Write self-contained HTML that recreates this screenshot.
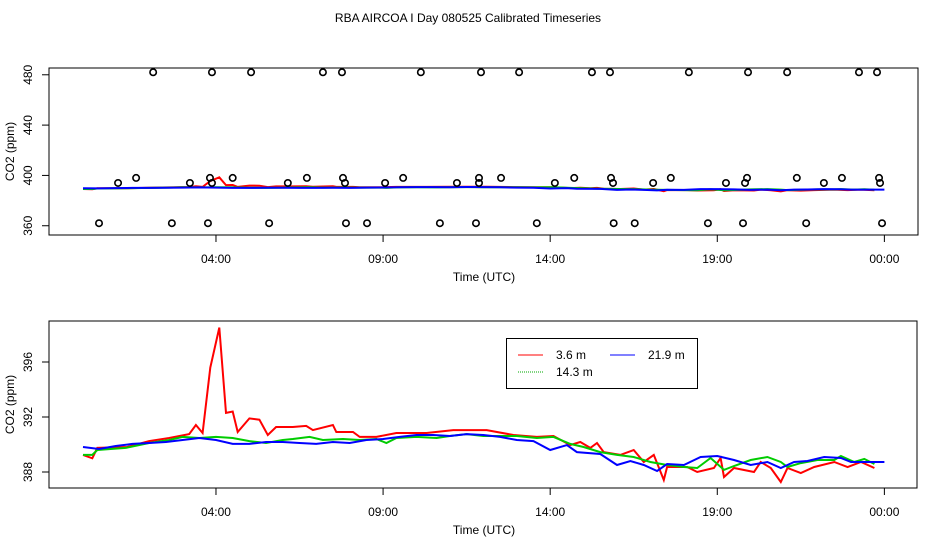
<!DOCTYPE html>
<html><head><meta charset="utf-8"><style>
body{margin:0;background:#fff}
svg text{font-family:"Liberation Sans",sans-serif;font-size:12px;fill:#000}
</style></head><body>
<svg id="c" width="936" height="540" viewBox="0 0 936 540">
<text x="468" y="22" text-anchor="middle">RBA AIRCOA I  Day 080525  Calibrated Timeseries</text>
</svg>
<script>
const xTicks=[4,9,14,19,24];
const xTickLabels=["04:00","09:00","14:00","19:00","00:00"];
const topYTicks=[360,400,440,480];
const botYTicks=[388,392,396];
const c482=[2.12,3.88,5.05,7.20,7.77,10.13,11.93,13.07,15.25,15.79,18.15,19.92,21.09,23.24,23.78];
const c398=[1.61,3.82,4.5,6.72,7.8,9.6,11.87,12.53,14.72,15.82,17.61,19.89,21.38,22.73,23.84];
const c394=[1.07,3.22,3.88,6.15,7.86,9.06,11.21,11.87,14.14,15.88,17.08,19.26,19.83,22.19,23.87];
const c360=[0.5,2.68,3.76,5.59,7.89,8.52,10.7,11.78,13.6,15.9,16.53,18.72,19.77,21.66,23.93];
const redT=[0.02,0.3,0.45,1.34,2.0,2.6,3.2,3.4,3.6,3.83,4.1,4.3,4.5,4.65,5.0,5.3,5.55,5.8,6.3,6.7,6.9,7.5,7.6,8.1,8.3,8.8,9.4,10.3,11.1,12.1,12.9,13.6,14.1,14.6,14.9,15.2,15.4,15.6,16.1,16.5,16.8,17.1,17.4,17.5,18.1,18.4,18.9,19.1,19.2,19.5,20.1,20.3,20.6,20.9,21.1,21.5,21.9,22.5,22.9,23.3,23.7];
const redV=[389.24,389.0,389.75,389.82,390.25,390.47,390.76,391.42,390.84,395.6,398.5,392.3,392.4,390.91,391.9,391.8,390.69,391.27,391.27,391.35,391.05,391.42,390.91,390.91,390.55,390.55,390.84,390.84,391.05,391.05,390.69,390.55,390.62,389.96,390.18,389.75,390.11,389.45,389.24,389.6,388.73,389.24,387.42,388.36,388.36,388.0,388.29,389.02,387.64,388.29,388.0,388.73,388.29,387.27,388.29,387.93,388.36,388.73,388.36,388.73,388.29];
const greenT=[0.02,0.3,0.45,1.3,2.0,2.6,3.0,3.5,4.0,4.5,5.0,5.5,6.0,6.3,6.8,7.2,7.8,8.3,8.8,9.1,9.4,10.0,10.6,11.0,11.5,12.0,12.5,13.0,13.6,14.1,14.6,15.0,15.5,16.0,16.5,17.0,17.5,18.0,18.4,18.8,19.2,19.5,20.0,20.5,20.9,21.1,21.5,22.0,22.5,22.7,23.1,23.4,23.7];
const greenV=[389.24,389.24,389.6,389.75,390.11,390.33,390.55,390.47,390.55,390.47,390.25,390.11,390.33,390.4,390.55,390.33,390.4,390.33,390.4,390.11,390.47,390.55,390.47,390.62,390.76,390.62,390.62,390.62,390.47,390.55,390.04,389.82,389.45,389.24,389.09,388.73,388.51,388.36,388.29,389.02,388.15,388.44,388.87,389.09,388.73,388.36,388.65,388.87,388.87,389.16,388.73,388.95,388.58];
const blueT=[0.02,0.5,1.0,1.5,2.0,2.5,3.0,3.5,4.0,4.5,5.0,5.5,6.0,6.5,7.0,7.5,8.0,8.5,9.0,9.5,10.0,10.5,11.0,11.5,12.0,12.5,13.0,13.5,14.0,14.5,14.8,15.5,16.0,16.4,16.8,17.2,17.5,18.0,18.5,19.0,19.5,20.0,20.5,20.9,21.3,21.7,22.2,22.7,23.0,23.5,24.0];
const blueV=[389.82,389.67,389.89,390.04,390.11,390.18,390.33,390.47,390.33,390.04,390.04,390.18,390.18,390.11,390.04,390.18,390.11,390.33,390.4,390.55,390.69,390.69,390.62,390.76,390.69,390.55,390.33,390.25,389.6,389.96,389.45,389.31,388.51,388.8,388.51,388.07,388.58,388.51,389.09,389.16,388.87,388.51,388.73,388.29,388.73,388.8,389.09,389.02,388.73,388.73,388.73];

const NS='http://www.w3.org/2000/svg';
const svg=document.getElementById('c');
function mk(tag,attrs,parent){const e=document.createElementNS(NS,tag);for(const k in attrs)e.setAttribute(k,attrs[k]);(parent||svg).appendChild(e);return e;}
const xs=t=>82.3+t*33.42;

function panel(name,box,yScale,yTicks,scatter){
  const g=mk('g',{});
  
  
  const r=mk('rect',{x:box.l,y:box.t,width:box.r-box.l,height:box.b-box.t,fill:'none',stroke:'#000','stroke-width':1},g);
  
  
  xTicks.forEach((t,i)=>{
    const x=xs(t);
    const l=mk('line',{x1:x,x2:x,y1:box.b,y2:box.b+7,stroke:'#000'},g);
    
    
    const tx=mk('text',{x:x,y:box.b+28,'text-anchor':'middle'},g);
    tx.textContent=xTickLabels[i];
    
    
  });
  yTicks.forEach(v=>{
    const y=yScale(v);
    const l=mk('line',{x1:box.l-7,x2:box.l,y1:y,y2:y,stroke:'#000'},g);
    
    
    const tx=mk('text',{x:32,y:y,'text-anchor':'middle',transform:`rotate(-90 32 ${y})`},g);
    tx.textContent=v;
    
    
  });
  const xt=mk('text',{x:484,y:box.b+46,'text-anchor':'middle'},g);
  xt.textContent='Time (UTC)';
  
  
  const my=(box.t+box.b)/2;
  const yt=mk('text',{x:14,y:my,'text-anchor':'middle',transform:`rotate(-90 14 ${my})`},g);
  yt.textContent='CO2 (ppm)';
  
  
  const series=[[redT,redV,'#ff0000','series-3-6m'],[greenT,greenV,'#00cc00','series-14-3m'],[blueT,blueV,'#0000ff','series-21-9m']];
  series.forEach(([T,V,col,nm])=>{
    const p=mk('polyline',{points:T.map((t,i)=>xs(t).toFixed(1)+','+yScale(V[i]).toFixed(1)).join(' '),fill:'none',stroke:col,'stroke-width':2},g);
    
    
  });
  if(scatter){
    [[c482,482],[c398,398],[c394,394],[c360,362]].forEach(([arr,v])=>{
      arr.forEach(t=>{
        const ci=mk('circle',{cx:xs(t),cy:yScale(v),r:3.2,fill:'none',stroke:'#000','stroke-width':1.6},g);
        
        
      });
    });
  }
}
panel('top-panel',{l:49,r:918,t:68,b:235},v=>188-(v-390)*1.258,topYTicks,true);
panel('bottom-panel',{l:49,r:917,t:321,b:488},v=>417-(v-392)*13.75,botYTicks,false);

const lg=mk('g',{});


mk('rect',{x:506.5,y:338.5,width:191,height:50,fill:'#fff',stroke:'#000'},lg);
[[518,355,'#ff0000','3.6 m',''],[610,355,'#0000ff','21.9 m',''],[518,372,'#00aa00','14.3 m','1,1']].forEach(([x,y,col,lab,d])=>{
  const l=mk('line',{x1:x,x2:x+25,y1:y,y2:y,stroke:col,'stroke-width':1,'stroke-dasharray':d||'none'},lg);
  
  
  const t=mk('text',{x:x+38,y:y+4},lg);
  t.textContent=lab;
  
  
});
</script>
</body></html>
